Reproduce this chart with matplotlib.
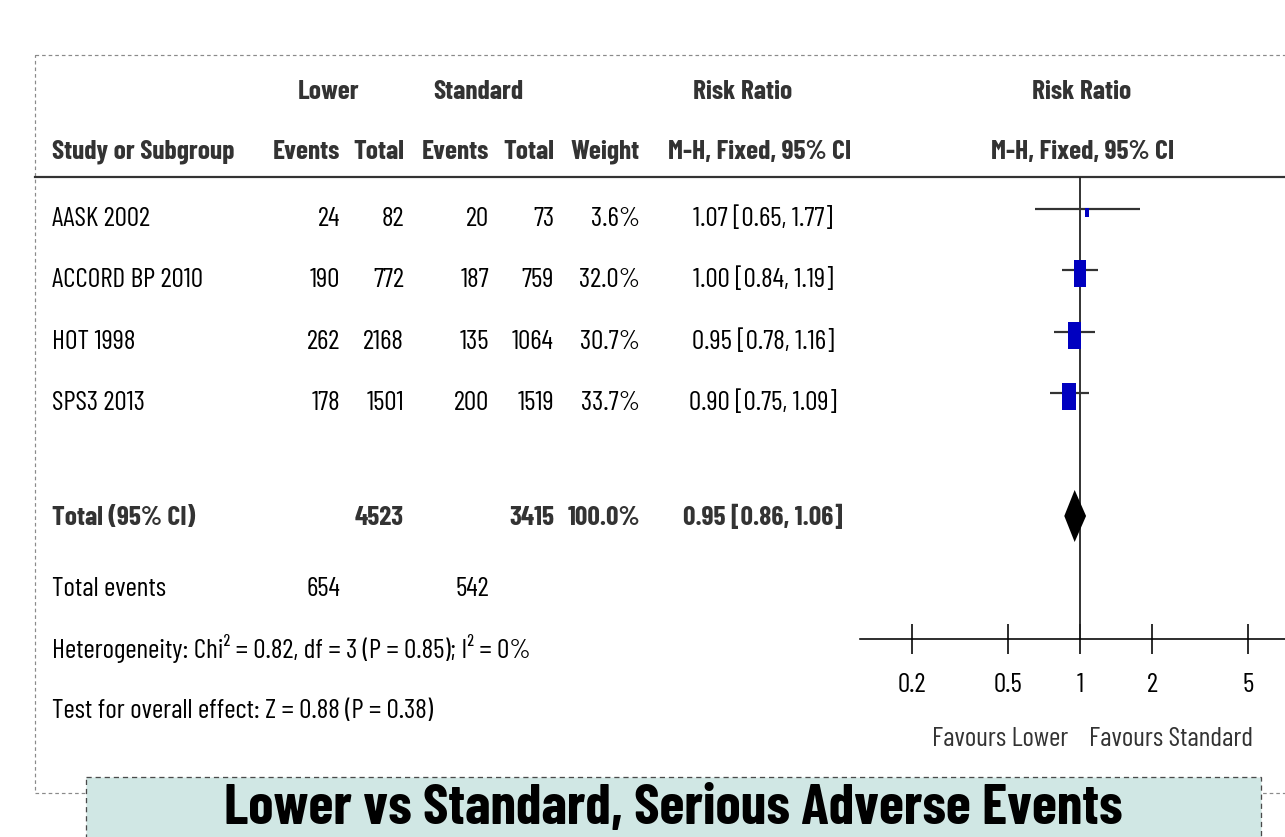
import numpy as np
import matplotlib
matplotlib.use('Agg')
import matplotlib.pyplot as plt
from matplotlib import font_manager
from matplotlib.font_manager import FontProperties
from matplotlib.textpath import TextToPath
from matplotlib.patches import Rectangle
from matplotlib.path import Path
from matplotlib.ticker import NullLocator

# data
studies = ['AASK 2002', 'ACCORD BP 2010', 'HOT 1998', 'SPS3 2013']
lower_events = [24, 190, 262, 178]
lower_total = [82, 772, 2168, 1501]
std_events = [20, 187, 135, 200]
std_total = [73, 759, 1064, 1519]
weight = [3.6, 32.0, 30.7, 33.7]
rr = [1.07, 1.00, 0.95, 0.90]
ci_lo = [0.65, 0.84, 0.78, 0.75]
ci_hi = [1.77, 1.19, 1.16, 1.09]

total_lower_n = 4523
total_std_n = 3415
total_weight = 100.0
total_rr, total_lo, total_hi = 0.95, 0.86, 1.06
total_lower_ev = 654
total_std_ev = 542
heterogeneity = 'Heterogeneity: Chi² = 0.82, df = 3 (P = 0.85); I² = 0%'
overall = 'Test for overall effect: Z = 0.88 (P = 0.38)'
ticks = [0.2, 0.5, 1, 2, 5]
title = 'Lower vs Standard, Serious Adverse Events'

# the original text is very squeezed; take the narrowest sensible face we have
avail = {f.name for f in font_manager.fontManager.ttflist}
FAM = 'Liberation Sans'
for cand in ['Barlow Condensed', 'Fira Sans Extra Condensed', 'Liberation Sans']:
    if cand in avail:
        FAM = cand
        break
plt.rcParams['font.family'] = [FAM, 'DejaVu Sans']
CAPR = 0.70

t2p = TextToPath()


def text_w(s, bold=False):
    fp = FontProperties(family=FAM, size=100, weight='bold' if bold else 'normal')
    return t2p.get_text_width_height_descent(s, fp, ismath=False)[0]


# size the fonts so the widths agree with the picture (478 px, 997 px)
FS = 100 * 478 / text_w(heterogeneity)
TS = min(100 * 990 / text_w(title, True), 40 / CAPR)

W, H = 1285, 837
HDR = '#333333'

fig = plt.figure(figsize=(W / 72, H / 72), dpi=72)
bg = fig.add_axes([0, 0, 1, 1])
bg.set_xlim(0, W)
bg.set_ylim(H, 0)
bg.axis('off')


def put(x, yc, s, ha='left', bold=False, color='black', size=None):
    # yc = middle of the capitals
    size = size or FS
    bg.text(x, yc + CAPR * size / 2, s, ha=ha, va='baseline', fontsize=size,
            fontweight='bold' if bold else 'normal', color=color)


# frame and header rule
bg.add_patch(Rectangle((35, 55), 1400, 738, fill=False, edgecolor='#8a8a8a',
                       lw=1.2, ls=(0, (3, 2.5))))
bg.plot([35, W], [177, 177], color='#333333', lw=2.2)

# header
put(329, 89, 'Lower', 'center', True, HDR)
put(478, 89, 'Standard', 'center', True, HDR)
put(743, 89, 'Risk Ratio', 'center', True, HDR)
put(1082, 89, 'Risk Ratio', 'center', True, HDR)
put(52, 149, 'Study or Subgroup', 'left', True, HDR)
col_x = [340, 404, 489, 554, 640]
for x, s in zip(col_x, ['Events', 'Total', 'Events', 'Total', 'Weight']):
    put(x, 149, s, 'right', True, HDR)
put(760, 149, 'M-H, Fixed, 95% CI', 'center', True, HDR)
put(1083, 149, 'M-H, Fixed, 95% CI', 'center', True, HDR)

# study rows
row_y = [216, 277, 339, 400]
for i, y in enumerate(row_y):
    put(52, y, studies[i])
    vals = [lower_events[i], lower_total[i], std_events[i], std_total[i]]
    for x, v in zip(col_x[:4], vals):
        put(x, y, str(v), 'right')
    put(col_x[4], y, f'{weight[i]:.1f}%', 'right')
    put(763, y, f'{rr[i]:.2f} [{ci_lo[i]:.2f}, {ci_hi[i]:.2f}]', 'center')

tot_y = 515
put(52, tot_y, 'Total (95% CI)', bold=True, color=HDR)
put(col_x[1], tot_y, str(total_lower_n), 'right', True, HDR)
put(col_x[3], tot_y, str(total_std_n), 'right', True, HDR)
put(col_x[4], tot_y, f'{total_weight:.1f}%', 'right', True, HDR)
put(763, tot_y, f'{total_rr:.2f} [{total_lo:.2f}, {total_hi:.2f}]', 'center', True, HDR)

put(52, 586, 'Total events')
put(col_x[0], 586, str(total_lower_ev), 'right')
put(col_x[2], 586, str(total_std_ev), 'right')
put(52, 648, heterogeneity)
put(52, 708, overall)

put(1000, 736, 'Favours Lower', 'center', color='#333333')
put(1171, 736, 'Favours Standard', 'center', color='#333333')

# title banner
bg.add_patch(Rectangle((86, 777), 1175, 80, facecolor='#d0e7e4', edgecolor='#4a4a4a',
                       lw=1.3, ls=(0, (4, 3)), zorder=3))
bg.text(673, 824, title, ha='center', va='baseline', fontsize=TS,
        fontweight='bold', color='black', zorder=4)

# forest panel, log scale: 1 at x=1080, 240 px per decade
fx = fig.add_axes([860 / W, 0, (W - 860) / W, 1])
fx.set_xscale('log')
fx.set_xlim(10 ** ((860 - 1080) / 240), 10 ** ((W - 1080) / 240))
fx.set_ylim(H, 0)
fx.patch.set_visible(False)
for s in ['top', 'right', 'left']:
    fx.spines[s].set_visible(False)
fx.spines['bottom'].set_position(('data', 639))
fx.spines['bottom'].set_linewidth(1.6)
fx.set_yticks([])
fx.set_xticks(ticks, labels=[f'{t:g}' for t in ticks])
fx.xaxis.set_minor_locator(NullLocator())
fx.tick_params(axis='x', direction='inout', length=30, width=1.6, pad=19,
               labelsize=FS, colors='black')

fx.vlines(1, 177, 639, color='#222222', lw=1.8)
line_y = [y - 7 for y in row_y]
box_y = [y - 3.5 for y in row_y]
fx.hlines(line_y, ci_lo, ci_hi, color='#333333', lw=2.2, zorder=3)
rect = Path([(-0.476, -1), (0.476, -1), (0.476, 1), (-0.476, 1), (-0.476, -1)],
            [Path.MOVETO, Path.LINETO, Path.LINETO, Path.LINETO, Path.CLOSEPOLY])
sizes = (4.77 * np.sqrt(weight)) ** 2
fx.scatter(rr, box_y, s=sizes, marker=rect, color='#0000c0', linewidths=0, zorder=4)

fx.fill([total_lo, total_rr, total_hi, total_rr], [tot_y + 1, tot_y - 25, tot_y + 1, tot_y + 27],
        color='black', lw=0, zorder=4)

fig.savefig('out.png', dpi=72)
